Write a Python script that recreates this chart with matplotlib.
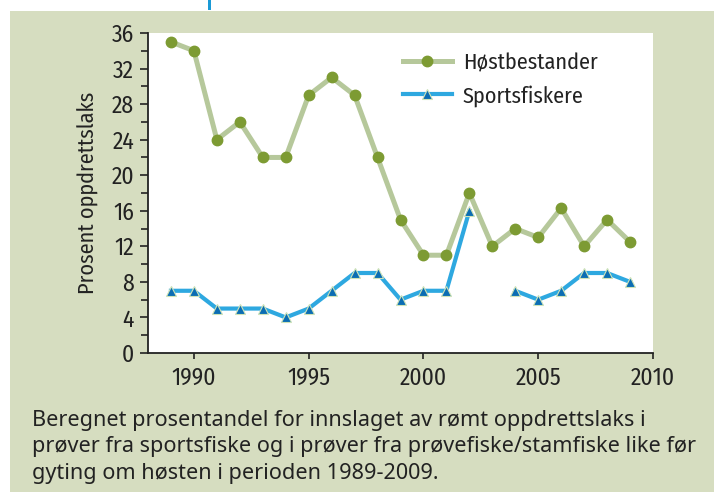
import numpy as np
import matplotlib.pyplot as plt
from matplotlib.patches import Rectangle

years = list(range(1989, 2010))
hostbestander = [35, 34, 24, 26, 22, 22, 29, 31, 29, 22, 15, 11, 11, 18, 12, 14, 13, 16.3, 12, 15, 12.5]
sportsfiskere = [7, 7, 5, 5, 5, 4, 5, 7, 9, 9, 6, 7, 7, 16, np.nan, 7, 6, 7, 9, 9, 8]
xticks = [1990, 1995, 2000, 2005, 2010]
yticks = list(range(0, 37, 4))
caption = ("Beregnet prosentandel for innslaget av rømt oppdrettslaks i\n"
           "prøver fra sportsfiske og i prøver fra prøvefiske/stamfiske like før\n"
           "gyting om høsten i perioden 1989-2009.")

panel = '#d6ddc0'
ink = '#222222'
plt.rcParams['font.family'] = ['Fira Sans Condensed', 'DejaVu Sans']

fig = plt.figure(figsize=(7.14, 4.92), dpi=100, facecolor='white')
fig.patches.append(Rectangle((10 / 714, 0), 1, 1 - 11 / 492, transform=fig.transFigure,
                             facecolor=panel, edgecolor='none', zorder=0))
# stub of the cut-off heading above the panel
fig.patches.append(Rectangle((208 / 714, 1 - 10 / 492), 3 / 714, 10 / 492,
                             transform=fig.transFigure, facecolor='#1a9ad6',
                             edgecolor='none', zorder=0))

ax = fig.add_axes([148 / 714, 1 - 353 / 492, 505 / 714, 320 / 492])
ax.set_zorder(2)
ax.set_facecolor('white')

ax.plot(years, hostbestander, color='#b6c89b', lw=3.6, marker='o', ms=7.5,
        mfc='#7d9b33', mec='#7d9b33', label='Høstbestander', zorder=3)
ax.plot(years, sportsfiskere, color='#2ea8e0', lw=3.0, marker='^', ms=7.5,
        mfc='#0b6db3', mec='#cfe3b8', mew=0.8, label='Sportsfiskere', zorder=3)

ax.set_xlim(1988, 2010)
ax.set_ylim(0, 36)
ax.set_xticks(xticks)
ax.set_yticks(yticks)
ax.set_yticks(range(2, 36, 4), minor=True)
ax.tick_params(axis='both', which='both', direction='out', colors=ink,
               labelsize=17, width=1.2)
ax.tick_params(axis='y', which='major', length=6, pad=4)
ax.tick_params(axis='y', which='minor', length=5)
ax.tick_params(axis='x', which='major', length=4, pad=6)
for s in ['top', 'right']:
    ax.spines[s].set_visible(False)
for s in ['left', 'bottom']:
    ax.spines[s].set_color(ink)
    ax.spines[s].set_linewidth(1.3)

ax.set_ylabel('Prosent oppdrettslaks', fontsize=16, color=ink, labelpad=9)

leg = ax.legend(loc='upper left', bbox_to_anchor=(0.505, 0.94), frameon=False,
                fontsize=16, handlelength=2.2, handletextpad=0.5, labelspacing=0.5,
                borderpad=0, borderaxespad=0)
for t in leg.get_texts():
    t.set_color(ink)

fig.text(32 / 714, 1 - 410 / 492, caption, fontsize=15.6, fontfamily='Noto Sans',
         color=ink, va='top', ha='left', linespacing=1.33)

fig.savefig('out.png', dpi=100, facecolor=fig.get_facecolor())
